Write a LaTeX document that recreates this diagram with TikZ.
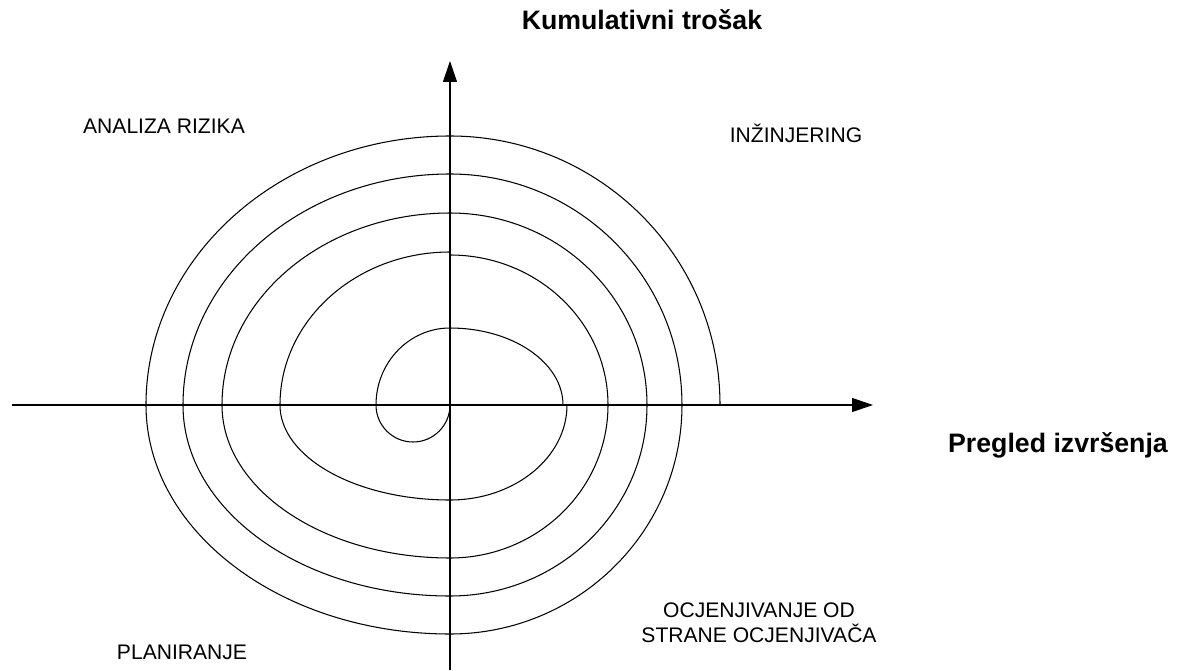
\documentclass[tikz,border=0pt]{standalone}
\usepackage{fontspec}
\setmainfont{Liberation Sans}
\usetikzlibrary{arrows.meta}

\tikzset{
  axis/.style={line width=0.6pt, -{Triangle[length=0.42cm, width=0.28cm]}},
  spiral/.style={line width=0.6pt},
  phase/.style={font=\fontsize{12}{14.2}\selectfont, align=center},
  axislabel/.style={font=\fontsize{15.2}{18}\selectfont\bfseries}
}

\begin{document}
\begin{tikzpicture}[x=0.02cm, y=0.02cm]
  \useasboundingbox (-450,-265) rectangle (727,405);

  % axes
  \coordinate (o) at (0,0);
  \coordinate (xstart) at (-438,0);
  \coordinate (xend) at (423,0);
  \coordinate (ystart) at (0,-265);
  \coordinate (yend) at (0,344);
  \draw[axis] (xstart) -- (xend);
  \draw[axis] (ystart) -- (yend);

  % spiral made of quarter ellipses, one turn per line
  \draw[spiral] (o) arc[start angle=0, end angle=-180, radius=37]
    arc[start angle=180, end angle=90, x radius=74, y radius=77]
    arc[start angle=90, end angle=0, x radius=113, y radius=77] -- (117,0)
    arc[start angle=0, end angle=-90, x radius=117, y radius=95]
    arc[start angle=270, end angle=180, x radius=170, y radius=95]
    arc[start angle=180, end angle=90, x radius=170, y radius=153] -- (0,150)
    arc[start angle=90, end angle=0, x radius=158, y radius=150]
    arc[start angle=0, end angle=-90, x radius=158, y radius=153]
    arc[start angle=270, end angle=180, x radius=228, y radius=153]
    arc[start angle=180, end angle=90, x radius=228, y radius=192]
    arc[start angle=90, end angle=0, x radius=197, y radius=192]
    arc[start angle=0, end angle=-90, x radius=197, y radius=191]
    arc[start angle=270, end angle=180, x radius=267, y radius=191]
    arc[start angle=180, end angle=90, x radius=267, y radius=231]
    arc[start angle=90, end angle=0, x radius=232, y radius=231]
    arc[start angle=0, end angle=-90, x radius=232, y radius=229]
    arc[start angle=270, end angle=180, x radius=304, y radius=229]
    arc[start angle=180, end angle=90, x radius=304, y radius=269]
    arc[start angle=90, end angle=0, x radius=270, y radius=269];

  % labels
  \node[axislabel, anchor=base] (cost) at (192,375) {Kumulativni trošak};
  \node[axislabel, anchor=base] (review) at (608,-47) {Pregled izvršenja};
  \node[phase, anchor=base] (risk) at (-286,272) {ANALIZA RIZIKA};
  \node[phase, anchor=base] (eng) at (346,262) {INŽINJERING};
  \node[phase] (eval) at (309,-218) {OCJENJIVANJE OD\\STRANE OCJENJIVAČA};
  \node[phase, anchor=base] (plan) at (-268,-254) {PLANIRANJE};
\end{tikzpicture}
\end{document}
